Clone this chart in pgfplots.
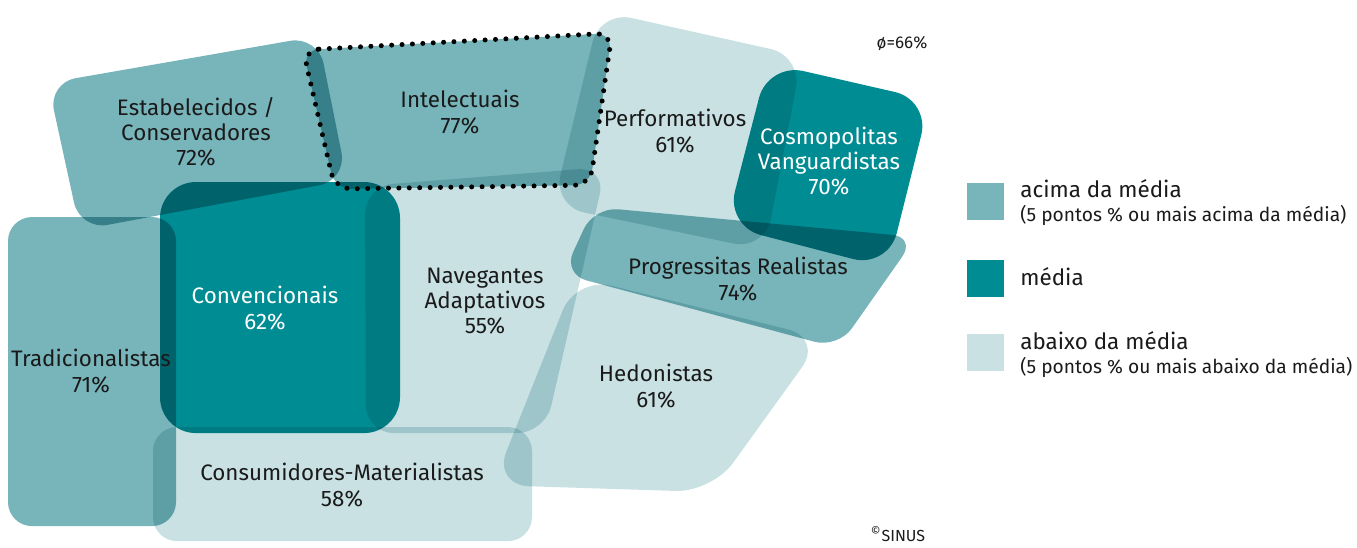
\documentclass[border=0pt]{standalone}
\usepackage{pgfplots}
\pgfplotsset{compat=1.18}
\usepackage{fontspec}
\setmainfont{Fira Sans}
\definecolor{acima}{HTML}{78B5BB}
\definecolor{media}{HTML}{008C93}
\definecolor{abaixo}{HTML}{C9E1E3}
\definecolor{txt}{HTML}{1A1A1A}
\tikzset{lbl/.style={font=\fontsize{11.2}{12.6}\selectfont,align=center,text=txt}}
\begin{document}
\begin{tikzpicture}
\begin{axis}[width=678.5pt,height=270.5pt,scale only axis,
  xmin=0,xmax=1357,ymin=0,ymax=541,y dir=reverse,hide axis,clip=false,
  every axis plot/.append style={draw=none,blend mode=multiply}]
  % Milieus (pixel coordinates, y downwards)
  \addplot[fill=acima,rounded corners=14pt] coordinates {(48,83)(318,36)(347,180)(80,230)} -- cycle;   % Estabelecidos
  \addplot[fill=acima,rounded corners=8pt] coordinates {(303,50)(612,33)(590,185)(335,189)} -- cycle;  % Intelectuais
  \addplot[fill=abaixo,rounded corners=16pt] coordinates {(600,11)(802,56)(765,250)(553,206)} -- cycle; % Performativos
  \addplot[fill=media,rounded corners=18pt] coordinates {(768,63)(930,100)(888,268)(726,226)} -- cycle;  % Cosmopolitas
  \addplot[fill=abaixo,rounded corners=14pt] coordinates {(365,186)(606,167)(545,433)(366,433)} -- cycle; % Navegantes
  \addplot[fill=acima,rounded corners=12pt] coordinates {(594,207)(916,237)(838,348)(563,274)} -- cycle;  % Progressitas
  \addplot[fill=abaixo,rounded corners=18pt] coordinates {(576,277)(823,338)(712,492)(493,485)} -- cycle; % Hedonistas
  \addplot[fill=media,rounded corners=18pt] coordinates {(160,182)(400,182)(400,433)(160,433)} -- cycle;  % Convencionais
  \addplot[fill=acima,rounded corners=12pt] coordinates {(8,217)(176,217)(176,526)(8,526)} -- cycle;      % Tradicionalistas
  \addplot[fill=abaixo,rounded corners=12pt] coordinates {(153,427)(532,427)(532,541)(153,541)} -- cycle; % Consumidores
  % dotted outline Intelectuais
  \addplot[draw=black,blend mode=normal,line width=2.5pt,line cap=round,dash pattern=on 0pt off 5.2pt,rounded corners=8pt]
    coordinates {(303,50)(612,33)(590,185)(335,189)} -- cycle;
  % legend squares
  \addplot[fill=acima,blend mode=normal] coordinates {(967,183)(1004,183)(1004,220)(967,220)} -- cycle;
  \addplot[fill=media,blend mode=normal] coordinates {(967,260)(1004,260)(1004,297)(967,297)} -- cycle;
  \addplot[fill=abaixo,blend mode=normal] coordinates {(967,334)(1004,334)(1004,371)(967,371)} -- cycle;
  \path (axis cs:0,0) rectangle (axis cs:1357,541);
  % labels
  \node[lbl] at (axis cs:196,132) {Estabelecidos /\\Conservadores\\72\%};
  \node[lbl] at (axis cs:460,112) {Intelectuais\\77\%};
  \node[lbl] at (axis cs:675,131) {Performativos\\61\%};
  \node[lbl,text=white] at (axis cs:829,161) {Cosmopolitas\\Vanguardistas\\70\%};
  \node[lbl,text=white] at (axis cs:265,308) {Convencionais\\62\%};
  \node[lbl] at (axis cs:485,301) {Navegantes\\Adaptativos\\55\%};
  \node[lbl] at (axis cs:738,279) {Progressitas Realistas\\74\%};
  \node[lbl] at (axis cs:91,371) {Tradicionalistas\\71\%};
  \node[lbl] at (axis cs:656,386) {Hedonistas\\61\%};
  \node[lbl] at (axis cs:342,485) {Consumidores-Materialistas\\58\%};
  \node[font=\fontsize{8.5}{9}\selectfont,text=txt] at (axis cs:902,44) {ø=66\%};
  \node[font=\fontsize{8}{9}\selectfont,text=txt,anchor=base] at (axis cs:898,541) {\textsuperscript{©}SINUS};
  % legend texts
  \begin{scope}[every node/.style={anchor=base west,inner sep=0pt,text=txt}]
  \node[font=\fontsize{11.2}{12}\selectfont] at (axis cs:1020,197) {acima da média};
  \node[font=\fontsize{9.6}{10}\selectfont] at (axis cs:1020,221) {(5 pontos \% ou mais acima da média)};
  \node[font=\fontsize{11.2}{12}\selectfont] at (axis cs:1020,285) {média};
  \node[font=\fontsize{11.2}{12}\selectfont] at (axis cs:1020,349) {abaixo da média};
  \node[font=\fontsize{9.6}{10}\selectfont] at (axis cs:1020,373) {(5 pontos \% ou mais abaixo da média)};
  \end{scope}
\end{axis}
\end{tikzpicture}
\end{document}
